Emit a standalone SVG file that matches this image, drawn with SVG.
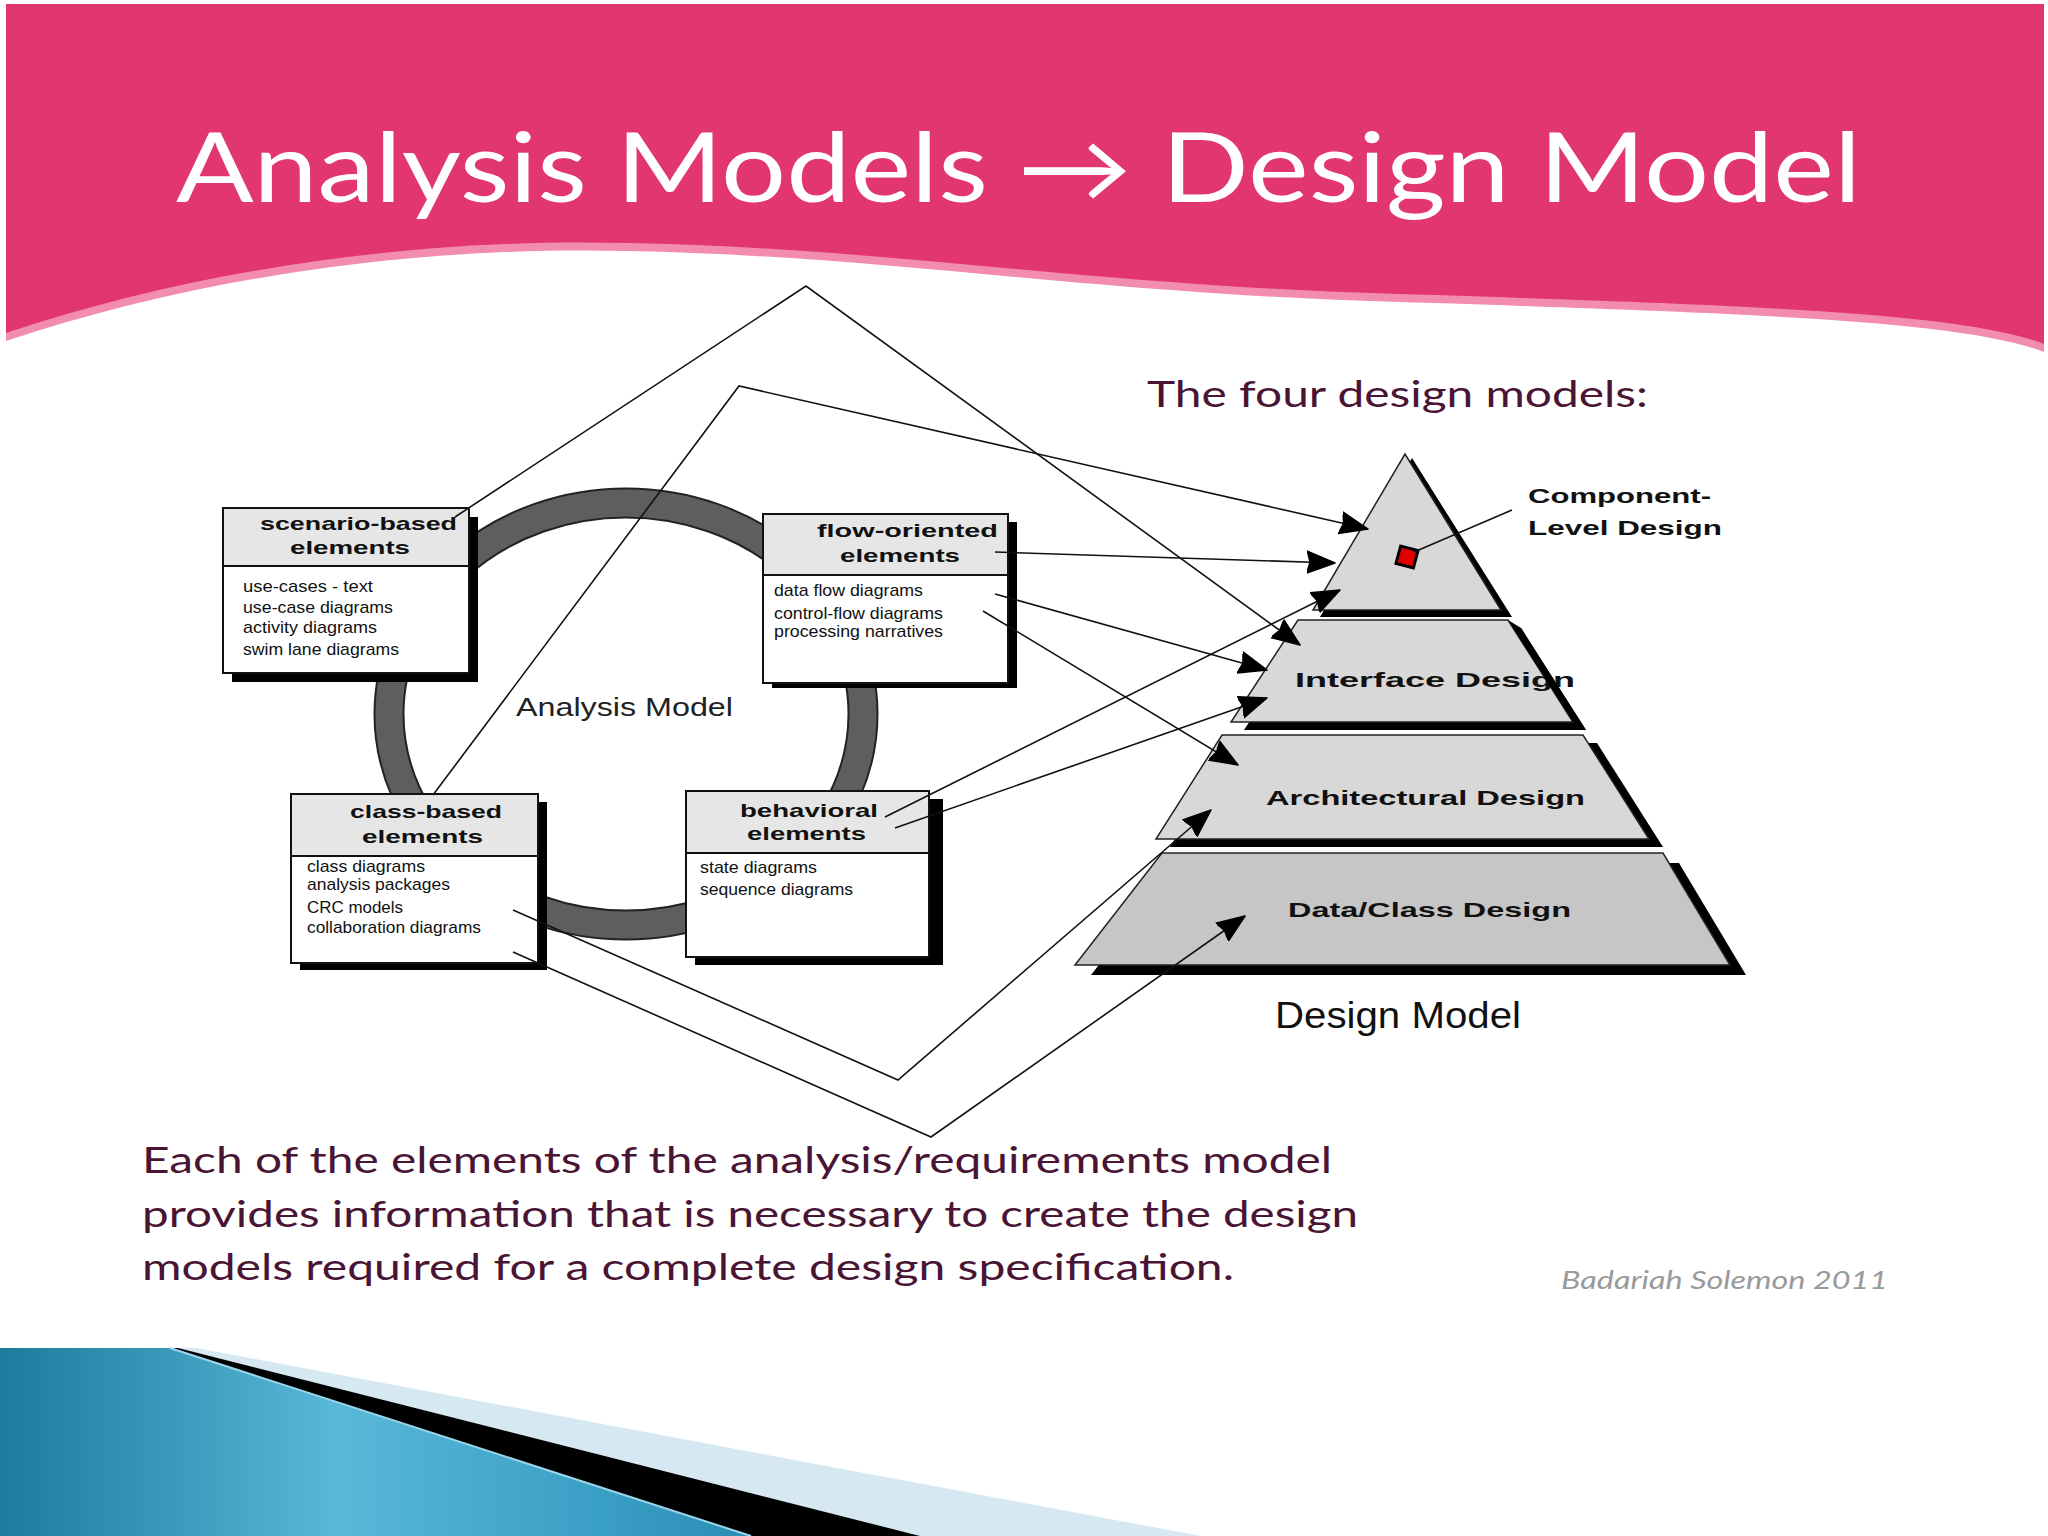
<svg xmlns="http://www.w3.org/2000/svg" width="2048" height="1536" viewBox="0 0 2048 1536">
<defs>
<style>
.hdr{font-family:"Liberation Sans",Arial,sans-serif;font-weight:bold;font-size:19px;fill:#111}
.itm{font-family:"Liberation Sans",Arial,sans-serif;font-size:17px;fill:#111}
.box{fill:#fff;stroke:#111;stroke-width:2}
.boxh{fill:#e6e6e6;stroke:#111;stroke-width:2}
.sh{fill:#000}
.lvl{fill:#d8d8d8;stroke:#222;stroke-width:1.5}
.lbl{font-family:"Liberation Sans",Arial,sans-serif;font-weight:bold;font-size:21px;fill:#111}
.cn{fill:none;stroke:#111;stroke-width:1.6}
.body{font-family:Lato,"Open Sans",sans-serif;font-size:36px;fill:#4a1535}
</style>
<marker id="ah" markerUnits="userSpaceOnUse" markerWidth="30" markerHeight="26" viewBox="0 0 30 26" refX="28" refY="13" orient="auto">
<path d="M0,2 L28,13 L0,24 L3,13 z" fill="#000" stroke="#000" stroke-width="1.5" stroke-linejoin="round"/>
</marker>
<linearGradient id="blue" x1="0" y1="0" x2="1" y2="0">
<stop offset="0" stop-color="#1d7b9d"/>
<stop offset="0.45" stop-color="#58b8d8"/>
<stop offset="0.8" stop-color="#3a9fc5"/>
<stop offset="1" stop-color="#2b8db3"/>
</linearGradient>
</defs>
<rect width="2048" height="1536" fill="#fff"/>

<g id="header">
<path d="M6,341 C200,276 420,246 627,251 C900,256 1100,296 1436,303 C1750,314 1960,320 2044,352 V4 H6 Z" fill="#f28db0"/>
<path d="M6,333 C200,268 420,238 627,243 C900,248 1100,288 1436,295 C1750,306 1960,312 2044,344 V4 H6 Z" fill="#e1366e"/>
<text x="176" y="202" font-family="Lato,'Open Sans',sans-serif" font-size="96" fill="#fff" textLength="1685" lengthAdjust="spacingAndGlyphs">Analysis Models → Design Model</text>
</g>

<g id="corner">
<polygon points="0,1348 196,1348 1201,1536 0,1536" fill="#d6e9f2"/>
<polygon points="0,1348 178,1348 920,1536 0,1536" fill="#000"/>
<polygon points="0,1348 170,1348 751,1536 0,1536" fill="url(#blue)"/>
<line x1="170" y1="1348" x2="751" y2="1536" stroke="#9ad6ea" stroke-width="2"/>
</g>

<g id="ring">
<ellipse cx="626" cy="714" rx="237" ry="211" fill="none" stroke="#222" stroke-width="31"/>
<ellipse cx="626" cy="714" rx="237" ry="211" fill="none" stroke="#5e5e5e" stroke-width="27"/>
<text x="516" y="716" font-family="Liberation Sans,Arial,sans-serif" font-size="25" fill="#222" textLength="217" lengthAdjust="spacingAndGlyphs">Analysis Model</text>
</g>

<g id="scenario">
<rect class="sh" x="232" y="517" width="246" height="165"/>
<rect class="box" x="223" y="508" width="246" height="165"/>
<rect class="boxh" x="223" y="508" width="246" height="58"/>
<text class="hdr" x="260" y="530" textLength="197" lengthAdjust="spacingAndGlyphs">scenario-based</text>
<text class="hdr" x="290" y="554" textLength="120" lengthAdjust="spacingAndGlyphs">elements</text>
<text class="itm" x="243" y="592" textLength="130" lengthAdjust="spacingAndGlyphs">use-cases - text</text>
<text class="itm" x="243" y="613" textLength="150" lengthAdjust="spacingAndGlyphs">use-case diagrams</text>
<text class="itm" x="243" y="633" textLength="134" lengthAdjust="spacingAndGlyphs">activity diagrams</text>
<text class="itm" x="243" y="655" textLength="156" lengthAdjust="spacingAndGlyphs">swim lane diagrams</text>
</g>

<g id="flow">
<rect class="sh" x="772" y="522" width="245" height="166"/>
<rect class="box" x="763" y="514" width="245" height="169"/>
<rect class="boxh" x="763" y="514" width="245" height="61"/>
<text class="hdr" x="817" y="537" textLength="181" lengthAdjust="spacingAndGlyphs">flow-oriented</text>
<text class="hdr" x="840" y="562" textLength="120" lengthAdjust="spacingAndGlyphs">elements</text>
<text class="itm" x="774" y="596" textLength="149" lengthAdjust="spacingAndGlyphs">data flow diagrams</text>
<text class="itm" x="774" y="619" textLength="169" lengthAdjust="spacingAndGlyphs">control-flow diagrams</text>
<text class="itm" x="774" y="637" textLength="169" lengthAdjust="spacingAndGlyphs">processing narratives</text>
</g>

<g id="class">
<rect class="sh" x="300" y="802" width="247" height="168"/>
<rect class="box" x="291" y="794" width="247" height="169"/>
<rect class="boxh" x="291" y="794" width="247" height="62"/>
<text class="hdr" x="350" y="818" textLength="152" lengthAdjust="spacingAndGlyphs">class-based</text>
<text class="hdr" x="362" y="843" textLength="121" lengthAdjust="spacingAndGlyphs">elements</text>
<text class="itm" x="307" y="872" textLength="118" lengthAdjust="spacingAndGlyphs">class diagrams</text>
<text class="itm" x="307" y="890" textLength="143" lengthAdjust="spacingAndGlyphs">analysis packages</text>
<text class="itm" x="307" y="913" textLength="96" lengthAdjust="spacingAndGlyphs">CRC models</text>
<text class="itm" x="307" y="933" textLength="174" lengthAdjust="spacingAndGlyphs">collaboration diagrams</text>
</g>

<g id="behavioral">
<rect class="sh" x="695" y="799" width="248" height="166"/>
<rect class="box" x="686" y="791" width="243" height="166"/>
<rect class="boxh" x="686" y="791" width="243" height="62"/>
<text class="hdr" x="740" y="817" textLength="138" lengthAdjust="spacingAndGlyphs">behavioral</text>
<text class="hdr" x="747" y="840" textLength="119" lengthAdjust="spacingAndGlyphs">elements</text>
<text class="itm" x="700" y="873" textLength="117" lengthAdjust="spacingAndGlyphs">state diagrams</text>
<text class="itm" x="700" y="895" textLength="153" lengthAdjust="spacingAndGlyphs">sequence diagrams</text>
</g>

<g id="component-level">
<polygon class="sh" points="1412,458 1512,617 1320,617"/>
<polygon class="lvl" points="1405,454 1501,610 1313,610"/>
<rect x="1398" y="548" width="18" height="18" fill="#e00000" stroke="#000" stroke-width="3" transform="rotate(15 1407 557)"/>
<line x1="1414" y1="552" x2="1512" y2="510" stroke="#111" stroke-width="1.5"/>
<text class="lbl" x="1528" y="503" font-size="20" textLength="183" lengthAdjust="spacingAndGlyphs">Component-</text>
<text class="lbl" x="1528" y="535" font-size="20" textLength="194" lengthAdjust="spacingAndGlyphs">Level Design</text>
</g>

<g id="interface">
<polygon class="sh" points="1311,628 1521,628 1586,730 1244,730"/>
<polygon class="lvl" points="1298,620 1508,620 1573,722 1231,722"/>
<text class="lbl" x="1295" y="687" textLength="280" lengthAdjust="spacingAndGlyphs">Interface Design</text>
<polygon class="sh" points="1508,620 1521,628 1586,730 1573,722"/>
</g>

<g id="architectural">
<polygon class="sh" points="1236,743 1597,743 1663,847 1170,847"/>
<polygon class="lvl" points="1222,735 1583,735 1649,839 1156,839"/>
<text class="lbl" x="1266" y="805" textLength="319" lengthAdjust="spacingAndGlyphs">Architectural Design</text>
</g>

<g id="dataclass">
<polygon class="sh" points="1178,863 1679,863 1746,975 1091,975"/>
<polygon class="lvl" points="1162,853 1663,853 1730,965 1075,965" style="fill:#c6c6c6"/>
<text class="lbl" x="1288" y="917" textLength="283" lengthAdjust="spacingAndGlyphs">Data/Class Design</text>
</g>

<text x="1275" y="1028" font-family="Liberation Sans,Arial,sans-serif" font-size="36" fill="#111" textLength="246" lengthAdjust="spacingAndGlyphs">Design Model</text>

<g id="connectors">
<polyline class="cn" points="455,517 806,286 1300,645" marker-end="url(#ah)"/>
<polyline class="cn" points="433,795 739,386 1368,529" marker-end="url(#ah)"/>
<polyline class="cn" points="995,552 1335,563" marker-end="url(#ah)"/>
<polyline class="cn" points="995,594 1267,670" marker-end="url(#ah)"/>
<polyline class="cn" points="983,611 1238,765" marker-end="url(#ah)"/>
<polyline class="cn" points="885,817 1340,590" marker-end="url(#ah)"/>
<polyline class="cn" points="895,828 1267,698" marker-end="url(#ah)"/>
<polyline class="cn" points="513,910 898,1080 1211,810" marker-end="url(#ah)"/>
<polyline class="cn" points="513,952 931,1137 1245,916" marker-end="url(#ah)"/>
</g>

<text x="1147" y="407" font-family="Lato,'Open Sans',sans-serif" font-size="36" fill="#4a1535" textLength="501" lengthAdjust="spacingAndGlyphs">The four design models:</text>

<g id="caption">
<text class="body" x="142" y="1173" textLength="1190" lengthAdjust="spacingAndGlyphs">Each of the elements of the analysis/requirements model</text>
<text class="body" x="142" y="1227" textLength="1216" lengthAdjust="spacingAndGlyphs">provides information that is necessary to create the design</text>
<text class="body" x="142" y="1280" textLength="1092" lengthAdjust="spacingAndGlyphs">models required for a complete design specification.</text>
</g>
<text x="1561" y="1289" font-family="Lato,'Open Sans',sans-serif" font-style="italic" font-size="26" fill="#9a9a9a" textLength="327" lengthAdjust="spacingAndGlyphs">Badariah Solemon 2011</text>
</svg>
